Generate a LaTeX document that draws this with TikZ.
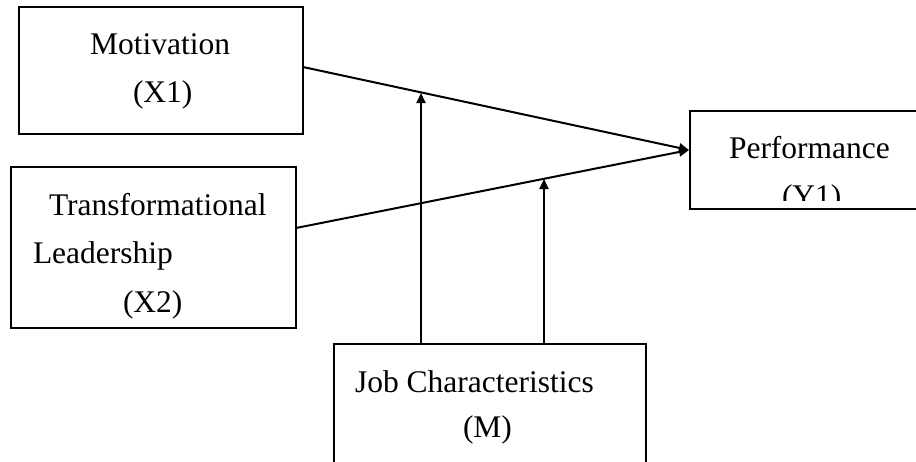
\documentclass[tikz,border=0pt]{standalone}
\usepackage{fontspec}
\setmainfont{Liberation Serif}
\usetikzlibrary{arrows.meta}
\begin{document}
\begin{tikzpicture}[x=1pt,y=-1pt,
  boxline/.style={draw=black,line width=2pt},
  lbl/.style={anchor=base west,inner sep=0pt,outer sep=0pt,font=\fontsize{31.5}{38}\selectfont},
  conn/.style={draw=black,line width=2pt,-{Triangle[length=10pt,width=9pt]}}]
\useasboundingbox (0,0) rectangle (916,461);
% boxes
\draw[boxline] (19,7) rectangle (303,134);
\node[inner sep=0pt] (mot) at (161,70.5) {};
\coordinate (motE) at (303,67);
\draw[boxline] (11,167) rectangle (296,328);
\coordinate (traE) at (296,228);
\draw[boxline] (930,209) -- (690,209) -- (690,111) -- (930,111);
\coordinate (perW) at (689,150);
\draw[boxline] (334,470) -- (334,344) -- (646,344) -- (646,470);
\coordinate (jobA) at (421,344);
\coordinate (jobB) at (544,344);
\coordinate (tipA) at (421,93);
\coordinate (tipB) at (544,179);
% texts
\node[lbl] (t1) at (90,54) {Motivation};
\node[lbl] (t2) at (133,102) {(X1)};
\node[lbl] (t3) at (49,215) {Transformational};
\node[lbl] (t4) at (33,263) {Leadership};
\node[lbl] (t5) at (123,312) {(X2)};
\node[lbl] (t6) at (729,158) {Performance};
\begin{scope}
\clip (690,111) rectangle (916,200);
\node[lbl] (t7) at (782,206) {(Y1)};
\end{scope}
\node[lbl] (t8) at (355,392) {Job Characteristics};
\node[lbl] (t9) at (463,437) {(M)};
% connectors
\draw[conn] (motE) -- (perW);
\draw[conn] (traE) -- (perW);
\draw[conn] (jobA) -- (tipA);
\draw[conn] (jobB) -- (tipB);
\end{tikzpicture}
\end{document}
